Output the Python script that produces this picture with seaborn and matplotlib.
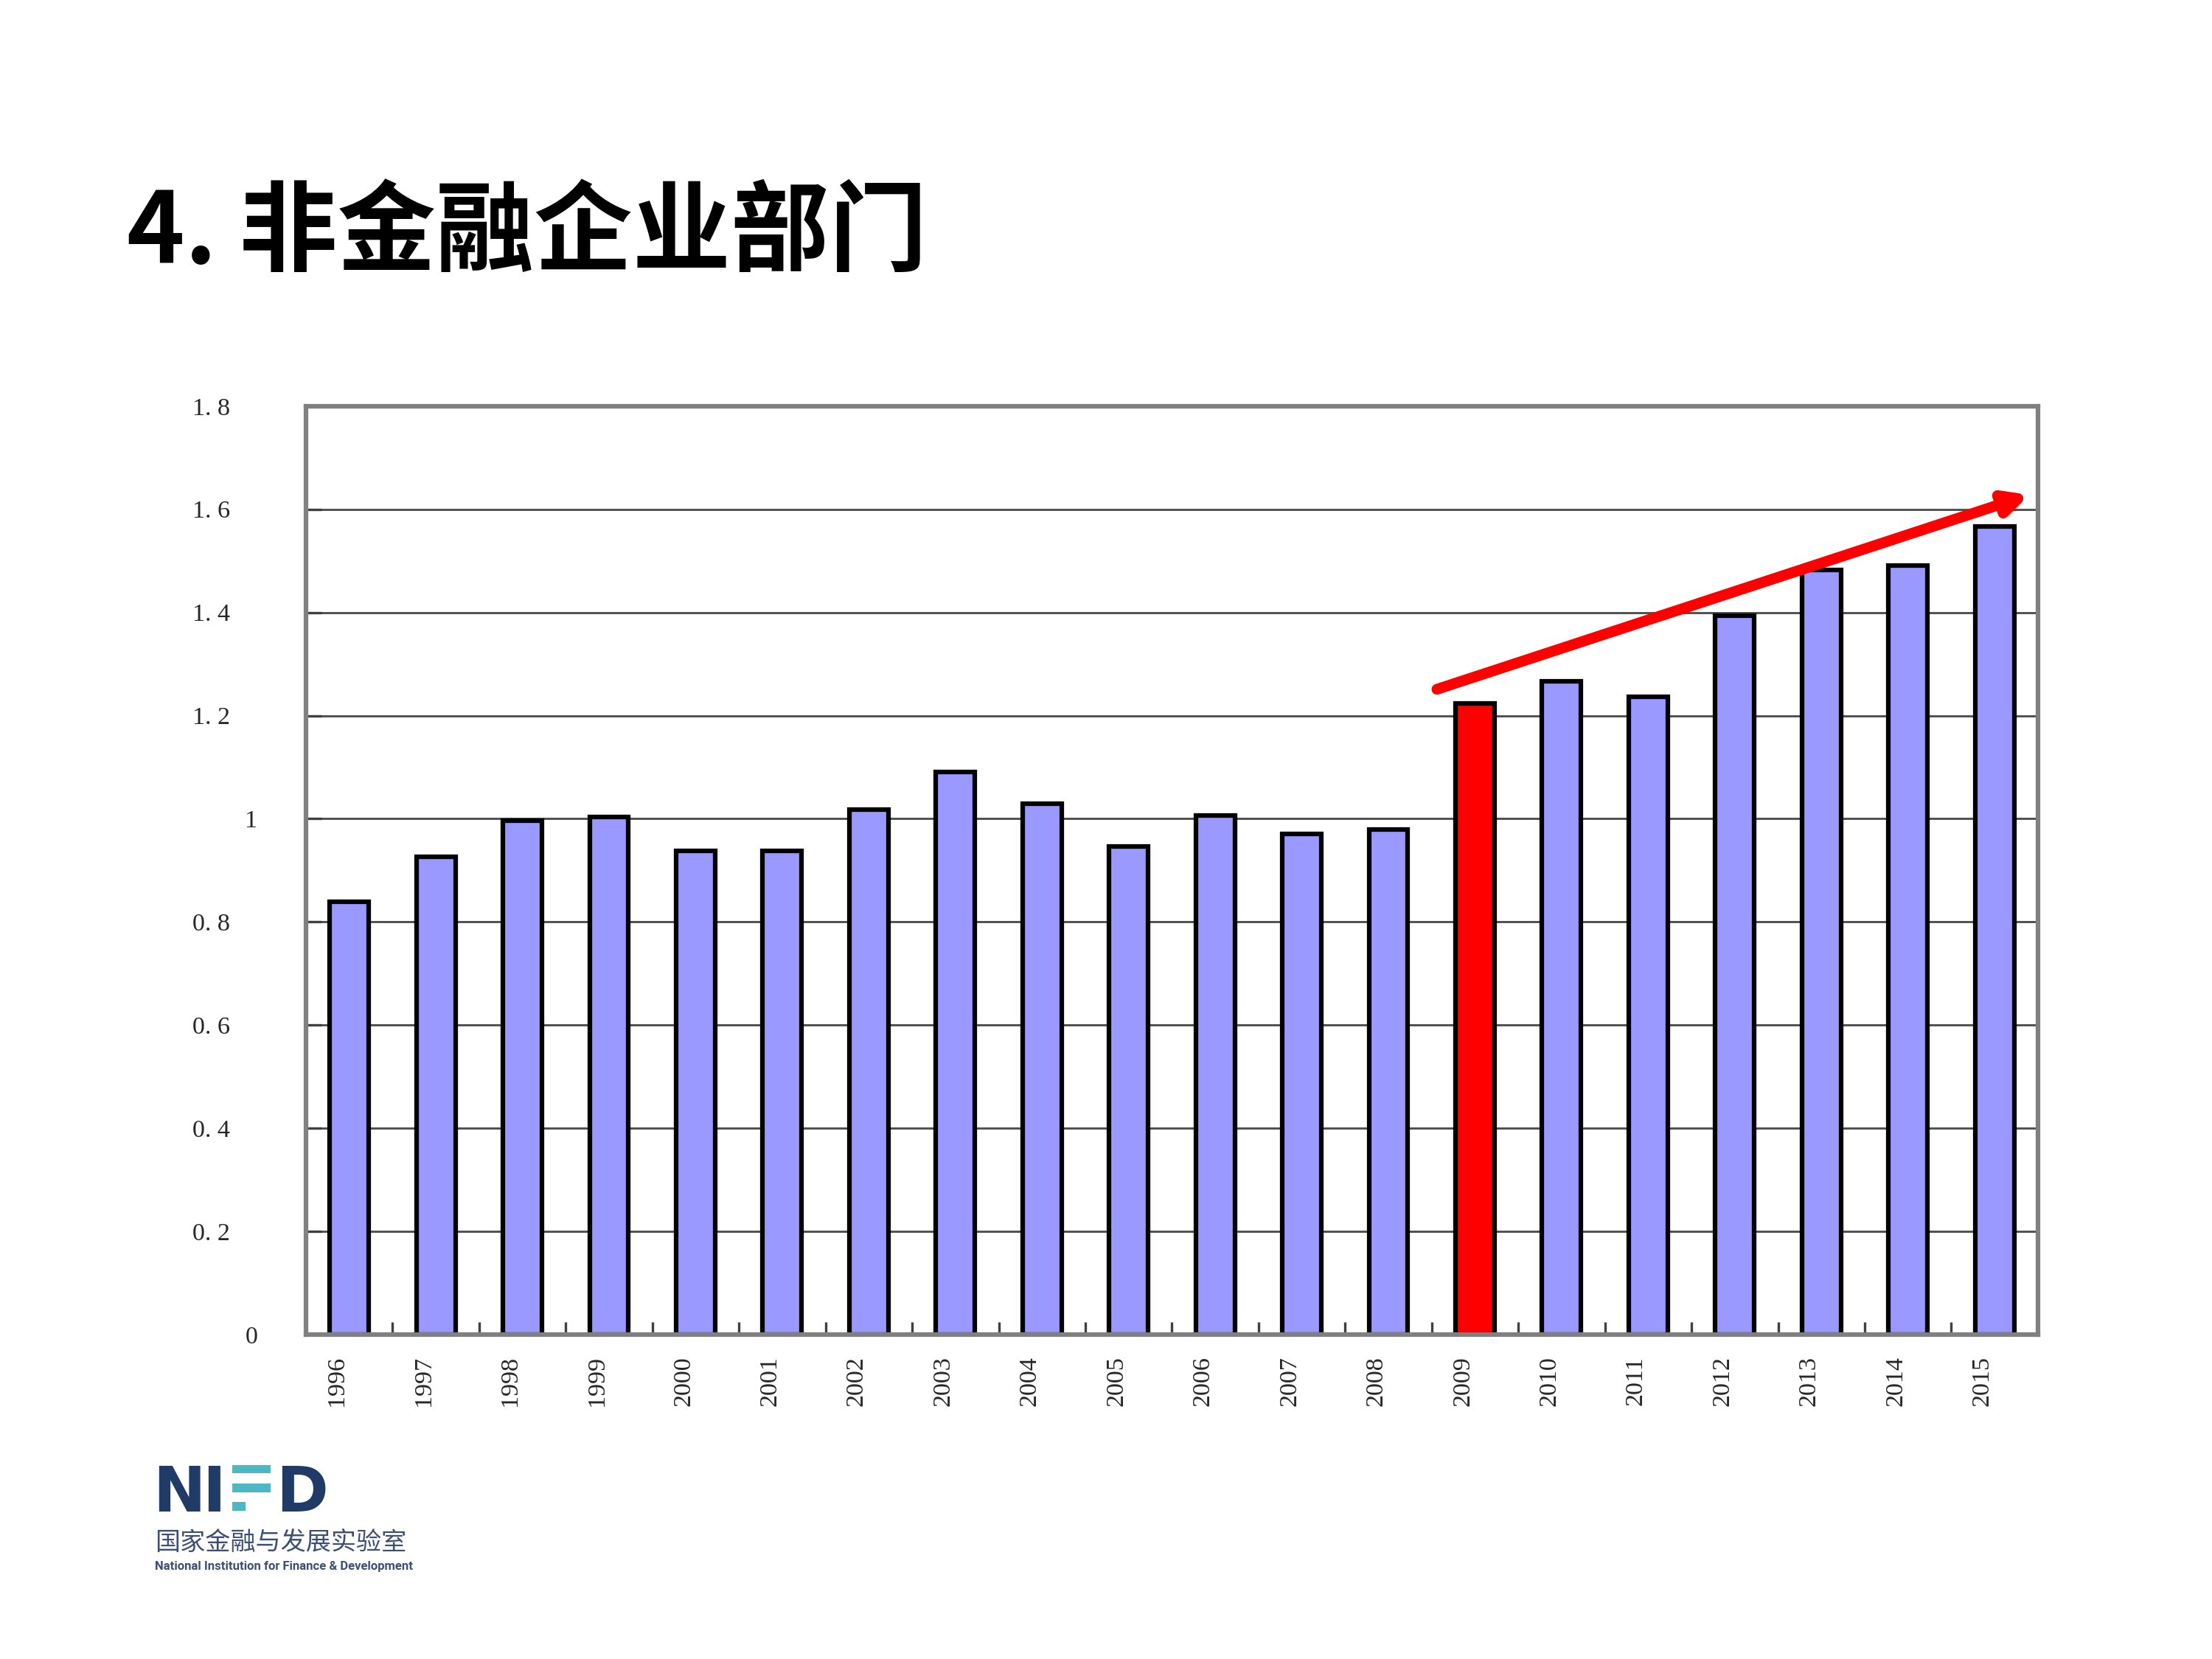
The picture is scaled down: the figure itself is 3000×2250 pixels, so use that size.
import numpy as np
import pandas as pd
import matplotlib
matplotlib.use('Agg')
import matplotlib.pyplot as plt
import matplotlib.transforms as mtrans
import matplotlib.patheffects as pe
from matplotlib.patches import Rectangle
import seaborn as sns

years = ['1996', '1997', '1998', '1999', '2000', '2001', '2002', '2003', '2004', '2005',
         '2006', '2007', '2008', '2009', '2010', '2011', '2012', '2013', '2014', '2015']
values = [0.839, 0.926, 0.996, 1.003, 0.937, 0.937, 1.018, 1.091, 1.029, 0.946,
          1.006, 0.971, 0.979, 1.223, 1.267, 1.237, 1.393, 1.483, 1.491, 1.566]
highlight_year = '2009'
yticks = [0, 0.2, 0.4, 0.6, 0.8, 1.0, 1.2, 1.4, 1.6, 1.8]
ytick_labels = ['0', '0. 2', '0. 4', '0. 6', '0. 8', '1', '1. 2', '1. 4', '1. 6', '1. 8']
# trend arrow (category position, value)
arrow_start = (12.56, 1.251)
arrow_end = (19.40, 1.628)

title = '4. 非金融企业部门'
logo_cn = '国家金融与发展实验室'
logo_en = 'National Institution for Finance & Development'

sns.set_style('white')
plt.rcParams['font.family'] = ['Noto Sans CJK SC', 'DejaVu Sans']

df = pd.DataFrame({'year': years, 'value': values})
colors = ['#FF0000' if y == highlight_year else '#9999FF' for y in years]

fig = plt.figure(figsize=(10, 7.5), dpi=300)
ax = fig.add_axes([0.1383, 0.1956, 0.7830, 0.5596])

sns.barplot(data=df, x='year', y='value', hue='year', palette=colors, legend=False,
            width=0.45, edgecolor='black', linewidth=1.5, saturation=1, ax=ax)

ax.set_xlim(-0.5, len(years) - 0.5)
ax.set_ylim(0, 1.8)
ax.set_xlabel('')
ax.set_ylabel('')

ax.yaxis.grid(True, color='#505050', lw=0.7)
ax.xaxis.grid(False)
ax.set_axisbelow(True)
for s in ax.spines.values():
    s.set_color('#808080')
    s.set_linewidth(1.5)
    s.set_visible(True)

ax.set_yticks(yticks)
ax.set_yticklabels(ytick_labels, family=['Liberation Serif'], fontsize=8.2)
ax.tick_params(axis='y', direction='in', length=5, width=0.8, color='#404040', pad=24.7, left=True)
shift = mtrans.ScaledTranslation(9 / 72, 0, fig.dpi_scale_trans)
for lab in ax.get_yticklabels():
    if '.' not in lab.get_text():
        lab.set_transform(lab.get_transform() + shift)

ax.set_xticks(range(len(years)))
ax.set_xticklabels(years, rotation=90, family=['Liberation Serif'], fontsize=8.2)
ax.tick_params(axis='x', which='major', length=0, pad=7)
xshift = mtrans.ScaledTranslation(-4 / 72, 0, fig.dpi_scale_trans)
for lab in ax.get_xticklabels():
    lab.set_transform(lab.get_transform() + xshift)
ax.set_xticks(np.arange(0.5, len(years) - 1, 1), minor=True)
ax.tick_params(axis='x', which='minor', direction='in', length=4, width=0.8,
               color='#404040', bottom=True)

arr = ax.annotate('', xy=arrow_end, xytext=arrow_start,
                  arrowprops=dict(arrowstyle='-|>', color='#FF0000', lw=3.5,
                                  mutation_scale=15, shrinkA=0, shrinkB=0))
arr.arrow_patch.set_path_effects([pe.SimplePatchShadow(offset=(1.5, -1.5), alpha=0.2), pe.Normal()])

fig.text(172 / 3000, 1 - 318 / 2250, title, fontsize=32, fontweight='bold',
         family=['Noto Sans CJK SC'], va='center', ha='left', color='black')

# logo
navy = '#1F3B66'
teal = '#4BB8C4'
def fy(y):
    return 1 - y / 2250
for ch, xp in [('N', 207), ('I', 274), ('D', 374)]:
    fig.text(xp / 3000, fy(2050), ch, fontsize=20.5, fontweight='bold',
             family=['DejaVu Sans'], color=navy, va='baseline', ha='left')
for x0, x1, y0, y1 in [(315, 367, 1987, 1998), (315, 367, 2012, 2024), (315, 333, 2037, 2049)]:
    fig.patches.append(Rectangle((x0 / 3000, fy(y1)), (x1 - x0) / 3000, (y1 - y0) / 2250,
                                 transform=fig.transFigure, color=teal, lw=0))
fig.text(210 / 3000, fy(2092), logo_cn, fontsize=8.2, color='#3D4F75',
         family=['Noto Sans CJK SC'], va='center', ha='left')
fig.text(210 / 3000, fy(2124), logo_en, fontsize=4.0, color='#3D4F75',
         family=['Roboto'], va='center', ha='left', fontweight='bold')

fig.savefig('out.png', dpi=300, facecolor='white')
